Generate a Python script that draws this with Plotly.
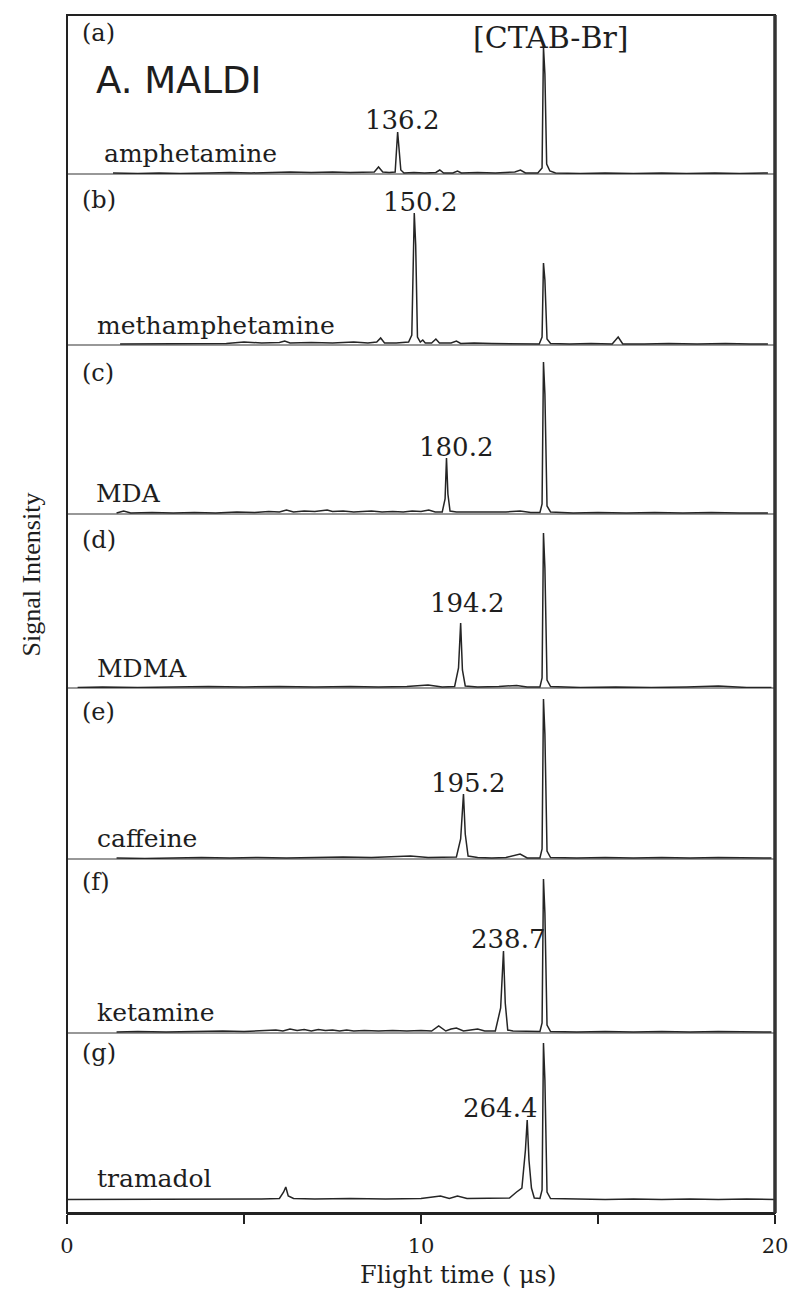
import plotly.graph_objects as go

# ---------------- data ----------------
panel_tags = ["(a)", "(b)", "(c)", "(d)", "(e)", "(f)", "(g)"]
drug_names = ["amphetamine", "methamphetamine", "MDA", "MDMA", "caffeine", "ketamine", "tramadol"]
peak_labels = ["136.2", "150.2", "180.2", "194.2", "195.2", "238.7", "264.4"]

a_t = [1.3, 2.0, 2.6, 3.2, 4.0, 4.6, 5.2, 5.8, 6.3, 6.9, 7.5, 8.0, 8.5, 8.68, 8.80, 8.92, 9.1, 9.27, 9.34, 9.38, 9.43, 9.52,
       9.8, 10.1, 10.42, 10.53, 10.64, 10.9, 11.03, 11.14, 11.6, 12.1, 12.65, 12.81, 12.95, 13.30, 13.42, 13.46, 13.50,
       13.55, 13.64, 13.8, 14.5, 15.2, 16.0, 16.8, 17.5, 18.3, 19.0, 19.8]
a_i = [1, 0.5, 1, 0.5, 1, 1.5, 1, 1.5, 2, 1.5, 2, 1.5, 2, 2, 7, 2, 1.5, 2, 42, 25, 4, 1,
       1.5, 1, 1.5, 4, 1, 1, 3, 1, 1.5, 1, 2, 4, 1, 1, 6, 127, 100,
       10, 3, 1, 0.5, 1, 0.5, 1, 0.5, 1, 0.5, 1]

b_t = [1.5, 2.2, 3.0, 3.8, 4.5, 5.0, 5.5, 6.0, 6.15, 6.3, 6.9, 7.5, 8.1, 8.5, 8.75, 8.86, 8.97, 9.3, 9.65, 9.74,
       9.81, 9.85, 9.90, 9.98, 10.05, 10.12, 10.3, 10.42, 10.52, 10.85, 11.0, 11.12, 11.5, 12.0, 12.6, 13.0, 13.34,
       13.42, 13.46, 13.50, 13.56, 13.66, 14.2, 14.8, 15.4, 15.57, 15.7, 16.3, 17.0, 17.8, 18.6, 19.3, 19.8]
b_i = [1, 1, 1.5, 1, 1.5, 3, 2, 2.5, 4, 2, 2.5, 2, 3, 2, 3, 7, 2, 2, 3, 10,
       132, 100, 8, 3, 5, 2, 2, 6, 2, 2, 4, 1.5, 2, 1.5, 1.5, 1, 1,
       8, 82, 65, 6, 1.5, 1, 1.5, 1, 8, 1, 1, 1.5, 1, 1.5, 1, 1]

c_t = [1.4, 1.6, 1.8, 2.4, 3.0, 3.6, 4.2, 4.8, 5.3, 5.7, 6.0, 6.2, 6.4, 6.7, 7.0, 7.2, 7.35, 7.5, 7.8, 8.1, 8.4,
       8.6, 8.9, 9.2, 9.5, 9.75, 10.0, 10.22, 10.4, 10.6, 10.68, 10.72, 10.76, 10.82, 11.0, 11.4, 11.9, 12.4, 12.8,
       13.1, 13.36, 13.42, 13.46, 13.50, 13.56, 13.66, 14.3, 15.0, 15.8, 16.6, 17.4, 18.2, 19.0, 19.8]
c_i = [1, 3, 1, 1.5, 1, 1.5, 1, 2, 1.5, 2.5, 2, 4, 2, 3, 2.5, 3.5, 4, 2.5, 3, 2, 2.5,
       3, 2, 2.5, 2, 3, 2.5, 4, 2, 2, 15, 56, 20, 3, 2, 2, 1.5, 2, 3,
       1.5, 1.5, 10, 152, 120, 8, 2, 1, 1.5, 1, 1.5, 1, 1.5, 1, 1]

d_t = [0.3, 1.0, 2.0, 3.0, 4.0, 5.0, 6.0, 7.0, 8.0, 8.8, 9.6, 10.2, 10.6, 10.95, 11.06, 11.12, 11.17, 11.25, 11.6,
       12.2, 12.7, 13.0, 13.36, 13.42, 13.46, 13.50, 13.56, 13.66, 14.5, 15.5, 16.5, 17.5, 18.4, 19.2, 19.9]
d_i = [0.5, 1, 0.5, 1, 1.5, 1, 1.5, 1, 1.5, 1, 1.5, 3, 1, 1.5, 20, 65, 18, 2, 1,
       1.5, 2.5, 1, 1, 10, 155, 120, 8, 1.5, 0.5, 1, 0.5, 1, 2, 0.5, 0.5]

e_t = [1.4, 2.2, 3.0, 3.8, 4.6, 5.4, 6.2, 7.0, 7.8, 8.6, 9.2, 9.7, 10.2, 10.7, 11.0, 11.12, 11.2, 11.25, 11.33,
       11.6, 12.0, 12.4, 12.8, 13.0, 13.36, 13.42, 13.46, 13.50, 13.56, 13.66, 14.4, 15.2, 16.0, 16.8, 17.6, 18.4,
       19.2, 19.9]
e_i = [1, 0.5, 1, 1.5, 1, 1.5, 1, 1.5, 2, 1.5, 2, 3, 1.5, 1.5, 2, 20, 65, 25, 3,
       1.5, 1, 1.5, 5, 1, 1, 10, 160, 125, 8, 1.5, 1, 1.5, 1, 1.5, 1, 1.5,
       1, 1]

f_t = [1.4, 2.0, 2.8, 3.6, 4.4, 5.0, 5.5, 5.9, 6.1, 6.3, 6.5, 6.7, 6.9, 7.1, 7.3, 7.5, 7.7, 7.9, 8.1, 8.4, 8.8,
       9.2, 9.6, 10.0, 10.3, 10.5, 10.7, 10.85, 11.0, 11.2, 11.4, 11.6, 11.8, 12.1, 12.25, 12.33, 12.38, 12.45, 12.6,
       13.0, 13.36, 13.42, 13.46, 13.50, 13.56, 13.66, 14.4, 15.2, 16.0, 16.8, 17.6, 18.4, 19.2, 19.9]
f_i = [1, 1.5, 1, 1.5, 2, 1.5, 2, 3, 2, 4, 2.5, 3.5, 2, 3.5, 2.5, 3, 2, 3, 2, 2.5, 2,
       2.5, 2, 2.5, 2, 7, 2, 4, 5, 2, 3, 4, 2, 2, 25, 82, 30, 3, 2,
       1.5, 1.5, 10, 154, 120, 8, 1.5, 1, 1.5, 1, 1.5, 1, 1.5, 1, 1]

g_t = [0.0, 1.0, 2.0, 2.5, 3.5, 4.5, 5.5, 6.0, 6.12, 6.18, 6.25, 6.4, 7.0, 8.0, 9.0, 10.0, 10.55, 10.8, 11.03,
       11.3, 12.0, 12.5, 12.7, 12.85, 12.95, 13.0, 13.05, 13.12, 13.2, 13.36, 13.42, 13.46, 13.50, 13.56, 13.66,
       14.4, 15.2, 16.0, 16.8, 17.6, 18.4, 19.2, 20.0]
g_i = [0.5, 0.5, 1, 0.5, 1, 0.5, 1, 1.5, 8, 13, 4, 1.5, 1, 1.5, 1, 1.5, 4, 1.5, 4,
       1.5, 1.5, 2, 8, 12, 50, 80, 40, 12, 2, 1.5, 10, 157, 120, 8, 1.5,
       1, 0.5, 1, 0.5, 1, 0.5, 1, 0.5]

x_tickvals = [0, 5, 10, 15, 20]
x_ticktext = ["0", "", "10", "", "20"]

series_t = [a_t, b_t, c_t, d_t, e_t, f_t, g_t]
series_i = [a_i, b_i, c_i, d_i, e_i, f_i, g_i]

# ---------------- layout geometry (pixels) ----------------
W, H = 800, 1291
L, R, T, B = 67, 785, 15, 1213
bounds = [15, 174, 345, 514, 688, 859, 1033, 1213]
baselines = [174, 345, 514, 688, 859, 1033, 1200]
PH = B - T
PW = R - L


def pfrac(ypx):
    return (B - ypx) / PH


def pxfrac(xpx):
    return (xpx - L) / PW


def px2t(xpx):
    return (xpx - L) / PW * 20.0


fig = go.Figure()
layout_axes = {}
for k in range(7):
    yname = "y" if k == 0 else f"y{k+1}"
    axname = "yaxis" if k == 0 else f"yaxis{k+1}"
    fig.add_trace(go.Scatter(x=series_t[k], y=series_i[k], mode="lines",
                             line=dict(color="#252525", width=1.5),
                             xaxis="x", yaxis=yname, showlegend=False, hoverinfo="skip"))
    lo = -(bounds[k + 1] - baselines[k])
    hi = baselines[k] - bounds[k]
    layout_axes[axname] = dict(domain=[pfrac(bounds[k + 1]), pfrac(bounds[k])], range=[lo, hi],
                               visible=False, anchor="x", fixedrange=True)

fig.update_layout(**layout_axes)

serif = "DejaVu Serif"
ink = "#1e1e1e"

# label positions in pixels (x, y centre)
tag_pos = [(80, 33), (80, 200), (80, 373), (80, 540), (80, 712), (80, 882), (80, 1053)]
name_pos = [(102, 153), (95, 325), (94, 493), (95, 668), (95, 838), (95, 1012), (95, 1178)]
peak_pos = [(407, 120), (425, 202), (461, 447), (473, 603), (474, 783), (514, 939), (506, 1108)]

ann = []
for k in range(7):
    yref = "y" if k == 0 else f"y{k+1}"
    for (txt, (xp, yp), xa, size) in [(panel_tags[k], tag_pos[k], "left", 24),
                                      (drug_names[k], name_pos[k], "left", 25),
                                      (peak_labels[k], peak_pos[k], "center", 26)]:
        ann.append(dict(text=txt, x=px2t(xp), y=baselines[k] - yp, xref="x", yref=yref,
                        xanchor=xa, yanchor="middle", showarrow=False,
                        font=dict(family=serif, size=size, color=ink)))

ann.append(dict(text="[CTAB-Br]", x=px2t(558), y=baselines[0] - 37, xref="x", yref="y",
                xanchor="center", yanchor="middle", showarrow=False,
                font=dict(family=serif, size=30, color=ink)))
ann.append(dict(text="A. MALDI", x=px2t(94), y=baselines[0] - 80, xref="x", yref="y",
                xanchor="left", yanchor="middle", showarrow=False,
                font=dict(family="DejaVu Sans", size=37, color=ink)))
ann.append(dict(text="Flight time ( \u03bcs)", x=pxfrac(464), y=pfrac(1275), xref="paper", yref="paper",
                xanchor="center", yanchor="middle", showarrow=False,
                font=dict(family=serif, size=24, color=ink)))
ann.append(dict(text="Signal Intensity", x=pxfrac(30), y=pfrac(575), xref="paper", yref="paper",
                xanchor="center", yanchor="middle", showarrow=False, textangle=-90,
                font=dict(family="Liberation Serif", size=26, color=ink)))

# frame lines
shapes = [dict(type="rect", xref="paper", yref="paper", x0=0, x1=1, y0=0, y1=1,
               line=dict(color="#222", width=2))]
for yb in bounds[1:-1]:
    shapes.append(dict(type="line", xref="paper", yref="paper", x0=0, x1=1, y0=pfrac(yb), y1=pfrac(yb),
                       line=dict(color="#333", width=1.2), layer="below"))
shapes.append(dict(type="line", xref="paper", yref="paper", x0=1, x1=1, y0=0, y1=1,
                   line=dict(color="#333", width=3.5)))

fig.update_layout(
    width=W, height=H,
    margin=dict(l=L, r=W - R, t=T, b=H - B),
    paper_bgcolor="white", plot_bgcolor="white",
    xaxis=dict(range=[0, 20], tickvals=x_tickvals, ticktext=x_ticktext, ticks="outside",
               ticklen=9, tickwidth=2, tickcolor="#222", showline=True, linecolor="#222", linewidth=3,
               showgrid=False, zeroline=False, anchor="free", position=0,
               tickfont=dict(family=serif, size=21, color=ink), ticklabelstandoff=4, fixedrange=True),
    annotations=ann, shapes=shapes,
)

fig.write_html("out.html")
